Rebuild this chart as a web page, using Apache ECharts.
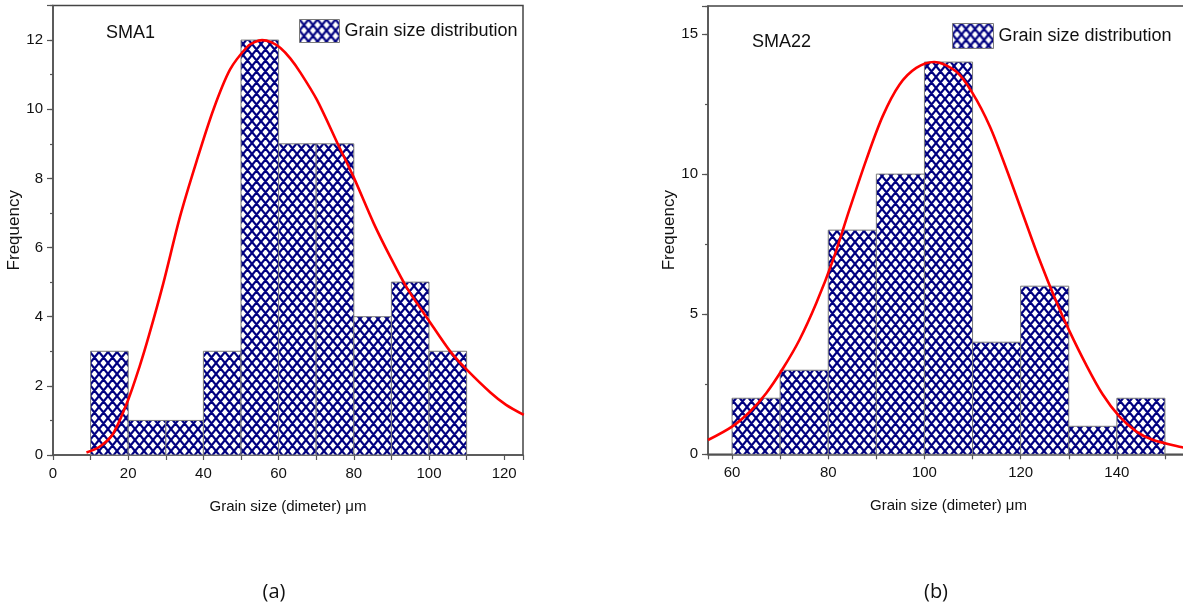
<!DOCTYPE html>
<html>
<head>
<meta charset="utf-8">
<script src="https://cdn.jsdelivr.net/npm/echarts@6/dist/echarts.min.js"></script>
<style>
html,body{margin:0;padding:0;background:#fff;}
#c{width:1183px;height:607px;}
</style>
</head>
<body>
<div id="c"></div>
<script>
// ---------- data ----------
const seriesName = 'Grain size distribution';

// (a) SMA1 histogram
const binEdgesA = [10, 20, 30, 40, 50, 60, 70, 80, 90, 100, 110];
const countsA   = [3, 1, 1, 3, 12, 9, 9, 4, 5, 3];
// (a) fitted curve
const fitAx = [8.9, 12.4, 15.9, 20, 23, 25.5, 29.3, 33.8, 38.2, 42.7, 47.1, 51.6, 53.6, 55.6, 58, 60.5, 63.1, 65.8, 70.2, 75.9, 79.9, 85.3, 89.7, 94.2, 99.9, 105.7, 110.1, 116.4, 120.5, 125.2];
const fitAy = [0.07, 0.24, 0.6, 1.6, 2.55, 3.45, 4.95, 6.9, 8.5, 10.0, 11.15, 11.8, 11.94, 12.0, 11.94, 11.77, 11.47, 11.06, 10.27, 8.96, 8.05, 6.7, 5.73, 4.82, 3.9, 2.99, 2.46, 1.8, 1.45, 1.16];

// (b) SMA22 histogram
const binEdgesB = [60, 70, 80, 90, 100, 110, 120, 130, 140, 150];
const countsB   = [2, 3, 8, 10, 14, 4, 6, 1, 2];
// (b) fitted curve
const fitBx = [55, 60, 63.7, 67.1, 70.6, 74, 77.5, 81, 84.4, 87.9, 91.3, 94.8, 98.3, 102, 106.6, 110, 113.6, 117, 120.5, 123.9, 127.4, 130, 133.6, 137, 140.5, 144, 147.4, 153.6, 155];
const fitBy = [0.51, 0.99, 1.52, 2.18, 3.07, 4.08, 5.39, 6.94, 8.73, 10.51, 12.06, 13.19, 13.79, 14.0, 13.66, 12.89, 11.7, 10.2, 8.55, 6.95, 5.45, 4.45, 3.2, 2.15, 1.35, 0.82, 0.52, 0.25, 0.21];

// tick labels
const xLabelsA = [0, 20, 40, 60, 80, 100, 120];
const yLabelsA = [0, 2, 4, 6, 8, 10, 12];
const xLabelsB = [60, 80, 100, 120, 140];
const yLabelsB = [0, 5, 10, 15];

// ---------- styling ----------
const AX = '#555';
const FONT = '"Liberation Sans", Arial, sans-serif';

function makeHatch() {
  const W = 9, H = 11;
  const c = document.createElement('canvas');
  c.width = W; c.height = H;
  const g = c.getContext('2d');
  g.fillStyle = '#ffffff';
  g.fillRect(0, 0, W, H);
  g.strokeStyle = '#000080';
  g.lineWidth = 2.2;
  g.beginPath();
  for (let k = -1; k <= 1; k++) {
    g.moveTo(k * W, 0); g.lineTo(k * W + W, H);
    g.moveTo(k * W + W, 0); g.lineTo(k * W, H);
  }
  g.stroke();
  return c;
}
const hatchFill = { image: makeHatch(), repeat: 'repeat' };

function histData(edges, counts) {
  return counts.map((c, i) => [edges[i], edges[i + 1], c]);
}
function zip(xs, ys) { return xs.map((x, i) => [x, ys[i]]); }

function renderBar(params, api) {
  const x0 = api.value(0), x1 = api.value(1), y = api.value(2);
  const p0 = api.coord([x0, y]);
  const p1 = api.coord([x1, 0]);
  return {
    type: 'rect',
    shape: { x: p0[0], y: p0[1], width: p1[0] - p0[0], height: p1[1] - p0[1] },
    style: { fill: hatchFill, stroke: '#7a7a7a', lineWidth: 1 }
  };
}

function fmt(list) { return v => (list.indexOf(v) >= 0 ? String(v) : ''); }

function xAxisCfg(grid, min, max, labels, extra) {
  return Object.assign({
    type: 'value', gridIndex: grid, min: min, max: max,
    axisLine: { onZero: false, lineStyle: { color: AX, width: 1.5 } },
    axisTick: { length: 5, lineStyle: { color: AX, width: 1.2 } },
    axisLabel: { formatter: fmt(labels), color: '#111', fontSize: 15, fontFamily: FONT, margin: 11 },
    splitLine: { show: false },
    name: 'Grain size (dimeter) \u03bcm', nameLocation: 'middle', nameGap: 44,
    nameTextStyle: { color: '#111', fontSize: 15, fontFamily: FONT }
  }, extra);
}
function yAxisMain(grid, max, interval, labels) {
  return {
    type: 'value', gridIndex: grid, position: 'left', min: 0, max: max, interval: interval,
    axisLine: { show: true, onZero: false, lineStyle: { color: AX, width: 1.5 } },
    axisTick: { show: true, length: 6, lineStyle: { color: AX, width: 1.2 } },
    axisLabel: { formatter: fmt(labels), color: '#111', fontSize: 15, fontFamily: FONT, margin: 10 },
    splitLine: { show: false },
    name: 'Frequency', nameLocation: 'middle', nameGap: 25,
    nameTextStyle: { color: '#111', fontSize: 17, fontFamily: FONT }
  };
}
function yAxisMinor(grid, max, interval) {
  return {
    type: 'value', gridIndex: grid, position: 'left', min: 0, max: max, interval: interval,
    axisLine: { show: false },
    axisTick: { show: true, length: 3, lineStyle: { color: AX, width: 1.2 } },
    axisLabel: { show: false },
    splitLine: { show: false }
  };
}

const legendItem = {
  name: seriesName, icon: 'rect',
  itemStyle: { color: hatchFill, borderColor: '#7a7a7a', borderWidth: 1 }
};
const legendText = { color: '#111', fontSize: 18, fontFamily: FONT };

const option = {
  animation: false,
  backgroundColor: '#fff',
  grid: [
    { left: 53, top: 5.5, right: 660, bottom: 152, show: true, borderColor: '#444', borderWidth: 1.5, backgroundColor: 'transparent', outerBoundsMode: 'none', containLabel: false },
    { left: 708, top: 6, right: -6, bottom: 152.7, show: true, borderColor: '#444', borderWidth: 1.5, backgroundColor: 'transparent', outerBoundsMode: 'none', containLabel: false }
  ],
  xAxis: [
    xAxisCfg(0, 0, 125, xLabelsA, { interval: 10 }),
    xAxisCfg(1, 55, 155, xLabelsB, { splitNumber: 10, minInterval: 10, maxInterval: 10 })
  ],
  yAxis: [
    yAxisMain(0, 13, 2, yLabelsA),
    yAxisMinor(0, 13, 1),
    yAxisMain(1, 16, 5, yLabelsB),
    yAxisMinor(1, 16, 2.5)
  ],
  legend: [
    { left: 294, top: 14, itemWidth: 40, itemHeight: 23, itemGap: 5, selectedMode: false, data: [legendItem], textStyle: legendText },
    { left: 947, top: 18, itemWidth: 41, itemHeight: 25, itemGap: 5, selectedMode: false, data: [legendItem], textStyle: legendText }
  ],
  graphic: [
    { type: 'text', x: 106, y: 33, style: { text: 'SMA1', fill: '#111', font: '18px ' + FONT, align: 'left', verticalAlign: 'middle' } },
    { type: 'text', x: 752, y: 42, style: { text: 'SMA22', fill: '#111', font: '18px ' + FONT, align: 'left', verticalAlign: 'middle' } },
    { type: 'text', x: 274, y: 592, style: { text: '(a)', fill: '#111', font: '20px "Open Sans", "Noto Sans", sans-serif', align: 'center', verticalAlign: 'middle' } },
    { type: 'text', x: 936, y: 592, style: { text: '(b)', fill: '#111', font: '20px "Open Sans", "Noto Sans", sans-serif', align: 'center', verticalAlign: 'middle' } }
  ],
  series: [
    {
      name: seriesName, type: 'custom', xAxisIndex: 0, yAxisIndex: 0,
      renderItem: renderBar, encode: { x: [0, 1], y: 2 },
      itemStyle: { color: hatchFill },
      data: histData(binEdgesA, countsA), z: 2
    },
    {
      name: 'fitA', type: 'line', xAxisIndex: 0, yAxisIndex: 0,
      data: zip(fitAx, fitAy), smooth: 0.3, showSymbol: false, symbol: 'none',
      lineStyle: { color: '#ff0000', width: 2.6 }, z: 5, clip: true
    },
    {
      name: seriesName, type: 'custom', xAxisIndex: 1, yAxisIndex: 2,
      renderItem: renderBar, encode: { x: [0, 1], y: 2 },
      itemStyle: { color: hatchFill },
      data: histData(binEdgesB, countsB), z: 2
    },
    {
      name: 'fitB', type: 'line', xAxisIndex: 1, yAxisIndex: 2,
      data: zip(fitBx, fitBy), smooth: 0.3, showSymbol: false, symbol: 'none',
      lineStyle: { color: '#ff0000', width: 2.6 }, z: 5, clip: true
    }
  ]
};

const chart = echarts.init(document.getElementById('c'), null, { renderer: 'canvas' });
chart.setOption(option);
</script>
</body>
</html>
